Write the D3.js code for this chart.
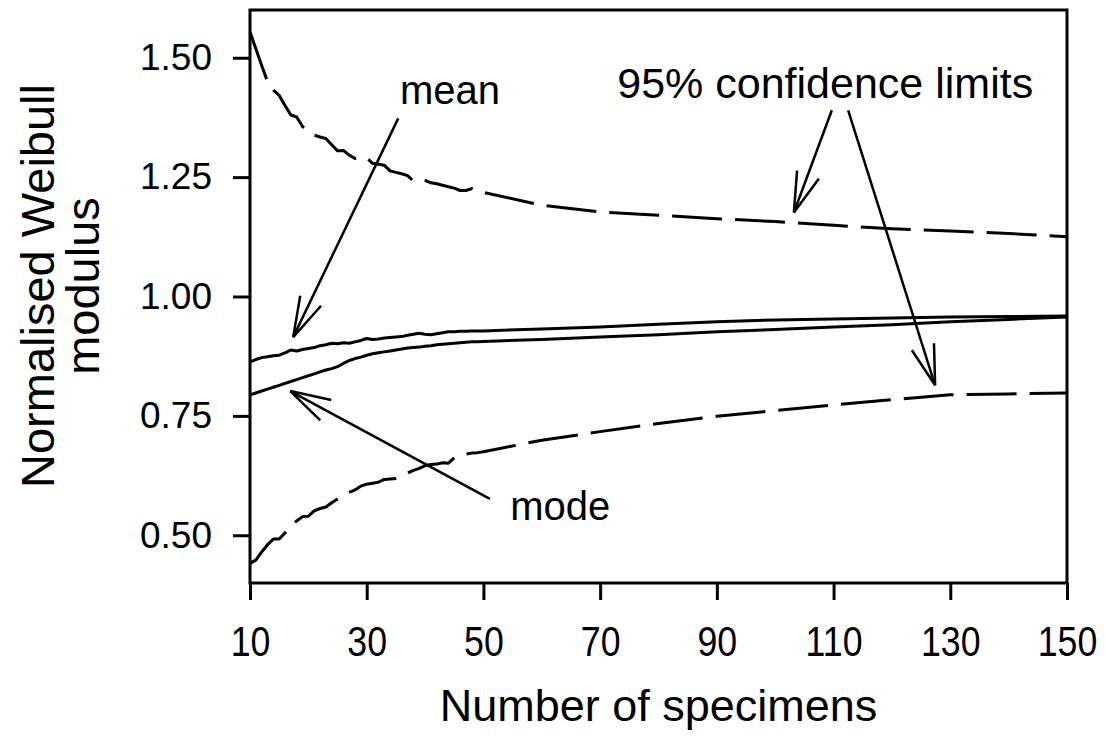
<!DOCTYPE html>
<html>
<head>
<meta charset="utf-8">
<script src="https://cdn.jsdelivr.net/npm/d3@7"></script>
<style>
  html, body { margin: 0; padding: 0; background: #fff; }
  svg { display: block; font-family: "Liberation Sans", Arial, sans-serif; }
</style>
</head>
<body>
<svg id="chart" width="1108" height="742"></svg>
<script>
// ---- data ----
const specimens = [10,11,12,13,14,15,16,17,18,19,20,21,22,23,24,25,26,27,28,29,30,
  31,32,33,34,35,36,37,38,39,40,41,42,43,44,45,46,47,48,49,50,
  60,70,80,90,100,110,120,130,140,150];

const upperLimit = [1.554,1.519,1.484,1.450,1.432,1.421,1.400,1.380,1.376,1.356,1.345,
  1.338,1.334,1.331,1.318,1.305,1.306,1.296,1.289,1.292,1.290,
  1.279,1.277,1.275,1.263,1.260,1.257,1.253,1.242,1.244,1.243,
  1.238,1.236,1.233,1.230,1.227,1.222,1.222,1.226,1.220,1.218,
  1.191,1.177,1.170,1.163,1.157,1.149,1.142,1.137,1.132,1.125];

const meanValue = [0.863,0.868,0.872,0.874,0.876,0.877,0.882,0.888,0.886,0.889,0.891,
  0.893,0.897,0.899,0.902,0.901,0.903,0.902,0.905,0.908,0.912,
  0.910,0.911,0.913,0.914,0.915,0.916,0.919,0.921,0.923,0.921,
  0.920,0.922,0.924,0.926,0.926,0.927,0.927,0.928,0.928,0.928,
  0.932,0.936,0.942,0.947,0.951,0.953,0.955,0.957,0.958,0.959];

const modeValue = [0.794,0.798,0.802,0.806,0.810,0.814,0.818,0.822,0.826,0.830,0.834,
  0.838,0.842,0.846,0.849,0.853,0.860,0.866,0.870,0.873,0.877,
  0.880,0.882,0.884,0.886,0.888,0.890,0.892,0.893,0.894,0.896,
  0.897,0.899,0.900,0.901,0.902,0.903,0.904,0.905,0.905,0.906,
  0.910,0.915,0.920,0.926,0.931,0.936,0.941,0.947,0.952,0.957];

const lowerLimit = [0.441,0.448,0.465,0.480,0.492,0.492,0.505,0.520,0.530,0.539,0.540,
  0.551,0.556,0.559,0.568,0.576,0.583,0.590,0.595,0.603,0.607,
  0.609,0.611,0.617,0.618,0.619,0.624,0.630,0.636,0.640,0.646,
  0.648,0.649,0.652,0.651,0.662,0.665,0.670,0.672,0.673,0.675,
  0.699,0.717,0.734,0.749,0.761,0.773,0.784,0.794,0.796,0.798];

const xTicks = [10,30,50,70,90,110,130,150];
const yTicks = [0.50,0.75,1.00,1.25,1.50];

// annotations in data units: label text positions and arrows (from -> to)
const labels = [
  {text: "mean", n: 35.7, v: 1.404, anchor: "start", size: 40},
  {text: "mode", n: 54.6, v: 0.532, anchor: "start", size: 40},
  {text: "95% confidence limits", n: 144.2, v: 1.415, anchor: "end", size: 43}
];
const arrows = [
  {n1: 35.4, v1: 1.373, n2: 17.4, v2: 0.915},
  {n1: 51.1, v1: 0.576, n2: 16.9, v2: 0.802},
  {n1: 109.7, v1: 1.390, n2: 103.2, v2: 1.176},
  {n1: 112.5, v1: 1.390, n2: 127.4, v2: 0.814}
];

// ---- layout ----
const svg = d3.select("#chart");
const mLeft = 250, mRight = 1067, mTop = 10, mBottom = 583;

const x = d3.scaleLinear().domain([10, 150]).range([mLeft, mRight]);
const y = d3.scaleLinear().domain([0.4, 1.6]).range([mBottom, mTop]);

const ink = "#000";

// frame
svg.append("rect")
  .attr("x", mLeft).attr("y", mTop)
  .attr("width", mRight - mLeft).attr("height", mBottom - mTop)
  .attr("fill", "none").attr("stroke", ink).attr("stroke-width", 3);

// axes
const yAxis = svg.append("g")
  .attr("transform", `translate(${mLeft},0)`)
  .call(d3.axisLeft(y).tickValues(yTicks).tickFormat(d3.format(".2f"))
    .tickSize(17).tickPadding(21));
const xAxis = svg.append("g")
  .attr("transform", `translate(0,${mBottom})`)
  .call(d3.axisBottom(x).tickValues(xTicks).tickFormat(d3.format("d"))
    .tickSize(17).tickPadding(26));

[yAxis, xAxis].forEach(g => {
  g.select(".domain").remove();
  g.selectAll(".tick line").attr("stroke", ink).attr("stroke-width", 3);
  g.selectAll(".tick text").attr("fill", ink)
    .style("font-family", '"Liberation Sans", Arial, sans-serif');
});
yAxis.selectAll(".tick text").style("font-size", "37px");
xAxis.selectAll(".tick text").style("font-size", "42px")
  .attr("transform", "scale(0.85,1)");

// lines
const series = [
  {vals: upperLimit, dash: "50,13"},
  {vals: meanValue, dash: null},
  {vals: modeValue, dash: null},
  {vals: lowerLimit, dash: "50,13"}
];
const line = d3.line()
  .x(d => x(d[0]))
  .y(d => y(d[1]));

series.forEach(s => {
  svg.append("path")
    .datum(specimens.map((n, i) => [n, s.vals[i]]))
    .attr("d", line)
    .attr("fill", "none")
    .attr("stroke", ink)
    .attr("stroke-width", 3)
    .attr("stroke-linejoin", "round")
    .attr("stroke-dasharray", s.dash);
});

// arrows
const barbLen = 42, barbAng = 16 * Math.PI / 180;
arrows.forEach(a => {
  const x1 = x(a.n1), y1 = y(a.v1), x2 = x(a.n2), y2 = y(a.v2);
  const ang = Math.atan2(y1 - y2, x1 - x2);
  const g = svg.append("g").attr("stroke", ink).attr("stroke-width", 2.5)
    .attr("fill", "none").attr("stroke-linecap", "butt");
  g.append("line").attr("x1", x1).attr("y1", y1).attr("x2", x2).attr("y2", y2);
  [-barbAng, barbAng].forEach(da => {
    g.append("line")
      .attr("x1", x2).attr("y1", y2)
      .attr("x2", x2 + barbLen * Math.cos(ang + da))
      .attr("y2", y2 + barbLen * Math.sin(ang + da));
  });
});

// labels
labels.forEach(l => {
  svg.append("text")
    .attr("x", x(l.n)).attr("y", y(l.v))
    .attr("text-anchor", l.anchor)
    .attr("fill", ink)
    .style("font-size", l.size + "px")
    .text(l.text);
});

// axis titles
svg.append("text")
  .attr("x", (mLeft + mRight) / 2).attr("y", 721)
  .attr("text-anchor", "middle")
  .attr("fill", ink)
  .style("font-size", "45px")
  .text("Number of specimens");

const yt = svg.append("text")
  .attr("transform", `translate(0,286) rotate(-90)`)
  .attr("text-anchor", "middle")
  .attr("fill", ink)
  .style("font-size", "47px");
yt.append("tspan").attr("x", 0).attr("y", 54).text("Normalised Weibull");
yt.append("tspan").attr("x", 0).attr("y", 99).text("modulus");
</script>
</body>
</html>
